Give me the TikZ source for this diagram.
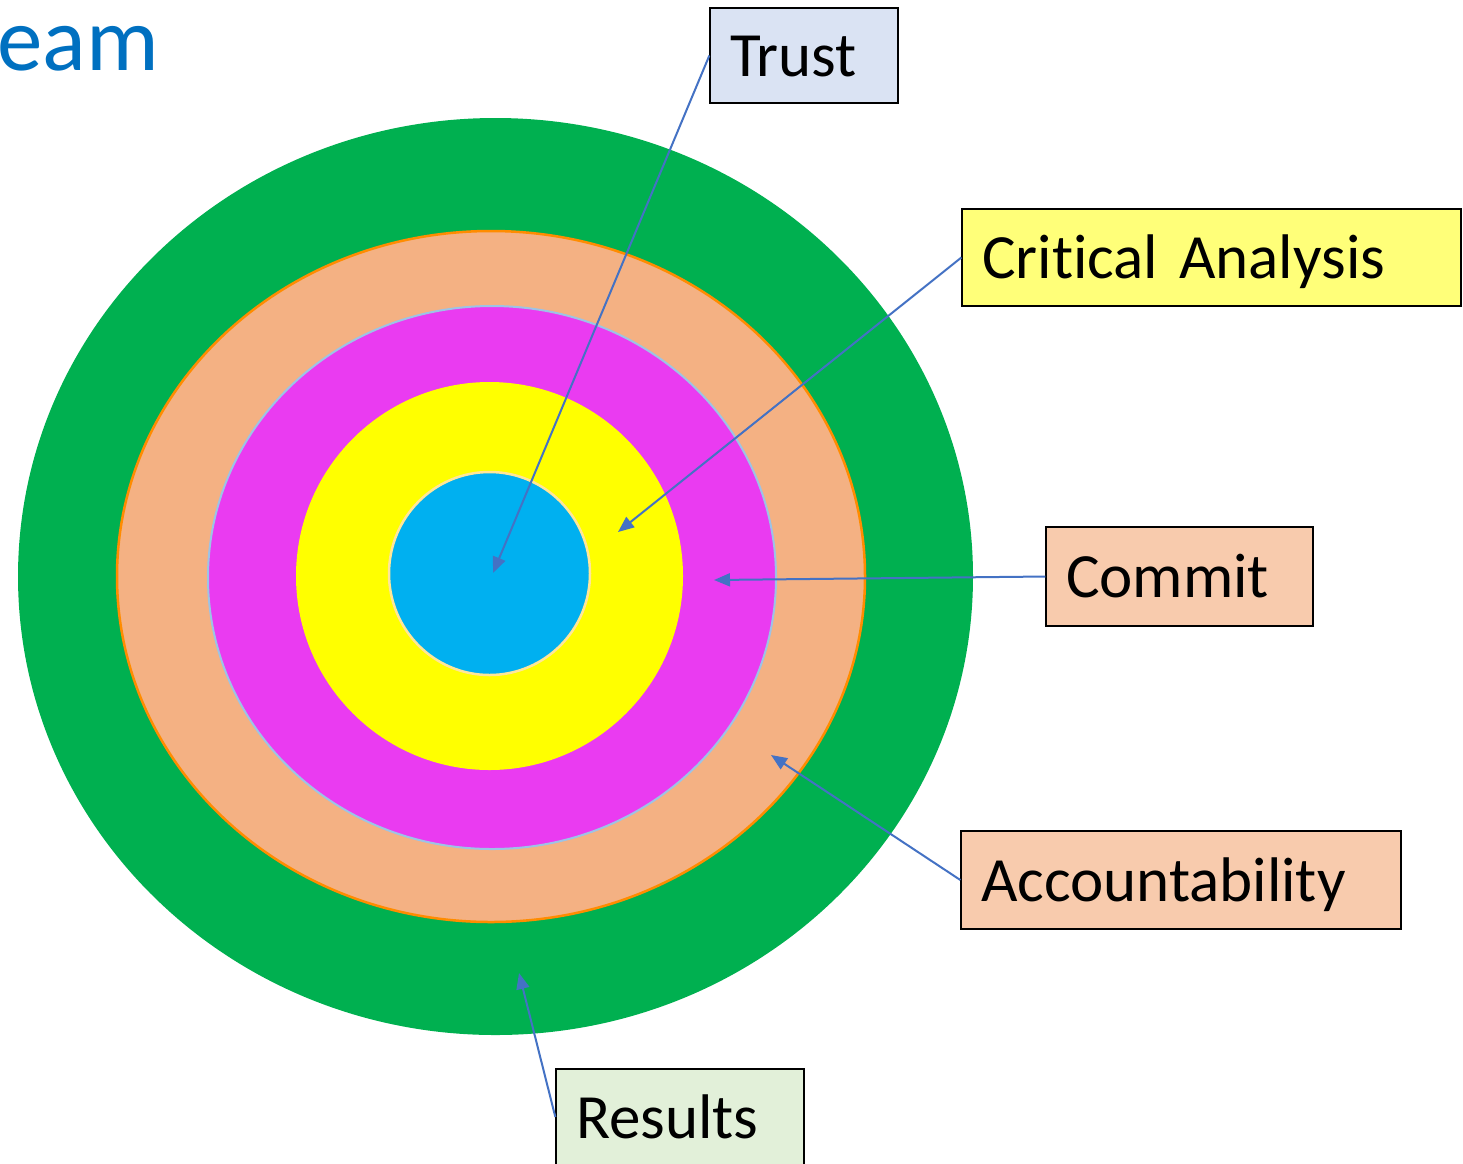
\documentclass[tikz,border=0pt]{standalone}
\usepackage{fontspec}
\setmainfont[Ligatures=NoCommon]{Carlito}
\usetikzlibrary{arrows.meta}
\definecolor{ringgreen}{HTML}{00B050}
\definecolor{ringsalmon}{HTML}{F4B183}
\definecolor{ringorange}{HTML}{FF8C00}
\definecolor{ringmagenta}{HTML}{EA3BF1}
\definecolor{ringlblue}{HTML}{9DC3E6}
\definecolor{ringyellow}{HTML}{FFFF00}
\definecolor{ringblue}{HTML}{00B0F0}
\definecolor{ringcream}{HTML}{FFE699}
\definecolor{boxtrust}{HTML}{DAE3F3}
\definecolor{boxcrit}{HTML}{FFFF79}
\definecolor{boxpeach}{HTML}{F8CBAD}
\definecolor{boxres}{HTML}{E2F0D9}
\definecolor{arrowblue}{HTML}{4472C4}
\definecolor{titleblue}{HTML}{0070C0}
\begin{document}
\begin{tikzpicture}[x=1pt,y=-1pt,
  labelbox/.style={draw=black, line width=1.3pt, inner xsep=20pt, inner ysep=0pt,
    align=left, text height=42pt, text depth=0pt,
    font=\fontsize{63}{70}\selectfont},
  pointer/.style={draw=arrowblue, line width=2pt,
    -{Triangle[length=16pt,width=13pt]}}]
\useasboundingbox (0,0) rectangle (1463,1163);
% title fragment
\node[anchor=base west, inner sep=0pt, text=titleblue,
  font=\fontsize{91}{98}\selectfont] (title) at (-3,70) {eam};
% rings
\fill[ringgreen] (495.5,576.5) ellipse [x radius=477.5, y radius=458.5];
\filldraw[fill=ringsalmon, draw=ringorange, line width=2.5pt] (491,576.5) ellipse [x radius=374, y radius=345.5];
\filldraw[fill=ringmagenta, draw=ringlblue, line width=2pt] (492,577.5) ellipse [x radius=284, y radius=271.5];
\fill[ringyellow] (489.5,576) ellipse [x radius=193.5, y radius=194];
\filldraw[fill=ringblue, draw=ringcream, line width=2.5pt] (489.5,573.5) ellipse [x radius=100.5, y radius=101.5];
% label boxes
\node[labelbox, fill=boxtrust, text width=148pt, minimum height=95pt] (trust) at (804,55.5) {Trust};
\node[labelbox, fill=boxcrit, text width=459pt, minimum height=97pt] (crit) at (1211.5,257.5) {Critical Analysis};
\node[labelbox, fill=boxpeach, text width=227pt, minimum height=99pt] (commit) at (1179.5,576.5) {Commit};
\node[labelbox, fill=boxpeach, text width=400pt, minimum height=98pt] (acc) at (1181,880) {Accountability};
\node[labelbox, fill=boxres, text width=208pt, minimum height=96pt] (res) at (680,1117) {Results};
% arrow targets
\coordinate (ttrust) at (493,573);
\coordinate (tcrit) at (618,532);
\coordinate (tcommit) at (714,580);
\coordinate (tacc) at (771,755);
\coordinate (tres) at (519,973);
% pointers
\draw[pointer] (trust.west) -- (ttrust);
\draw[pointer] (crit.west) -- (tcrit);
\draw[pointer] (commit.west) -- (tcommit);
\draw[pointer] (acc.west) -- (tacc);
\draw[pointer] (res.west) -- (tres);
\end{tikzpicture}
\end{document}
